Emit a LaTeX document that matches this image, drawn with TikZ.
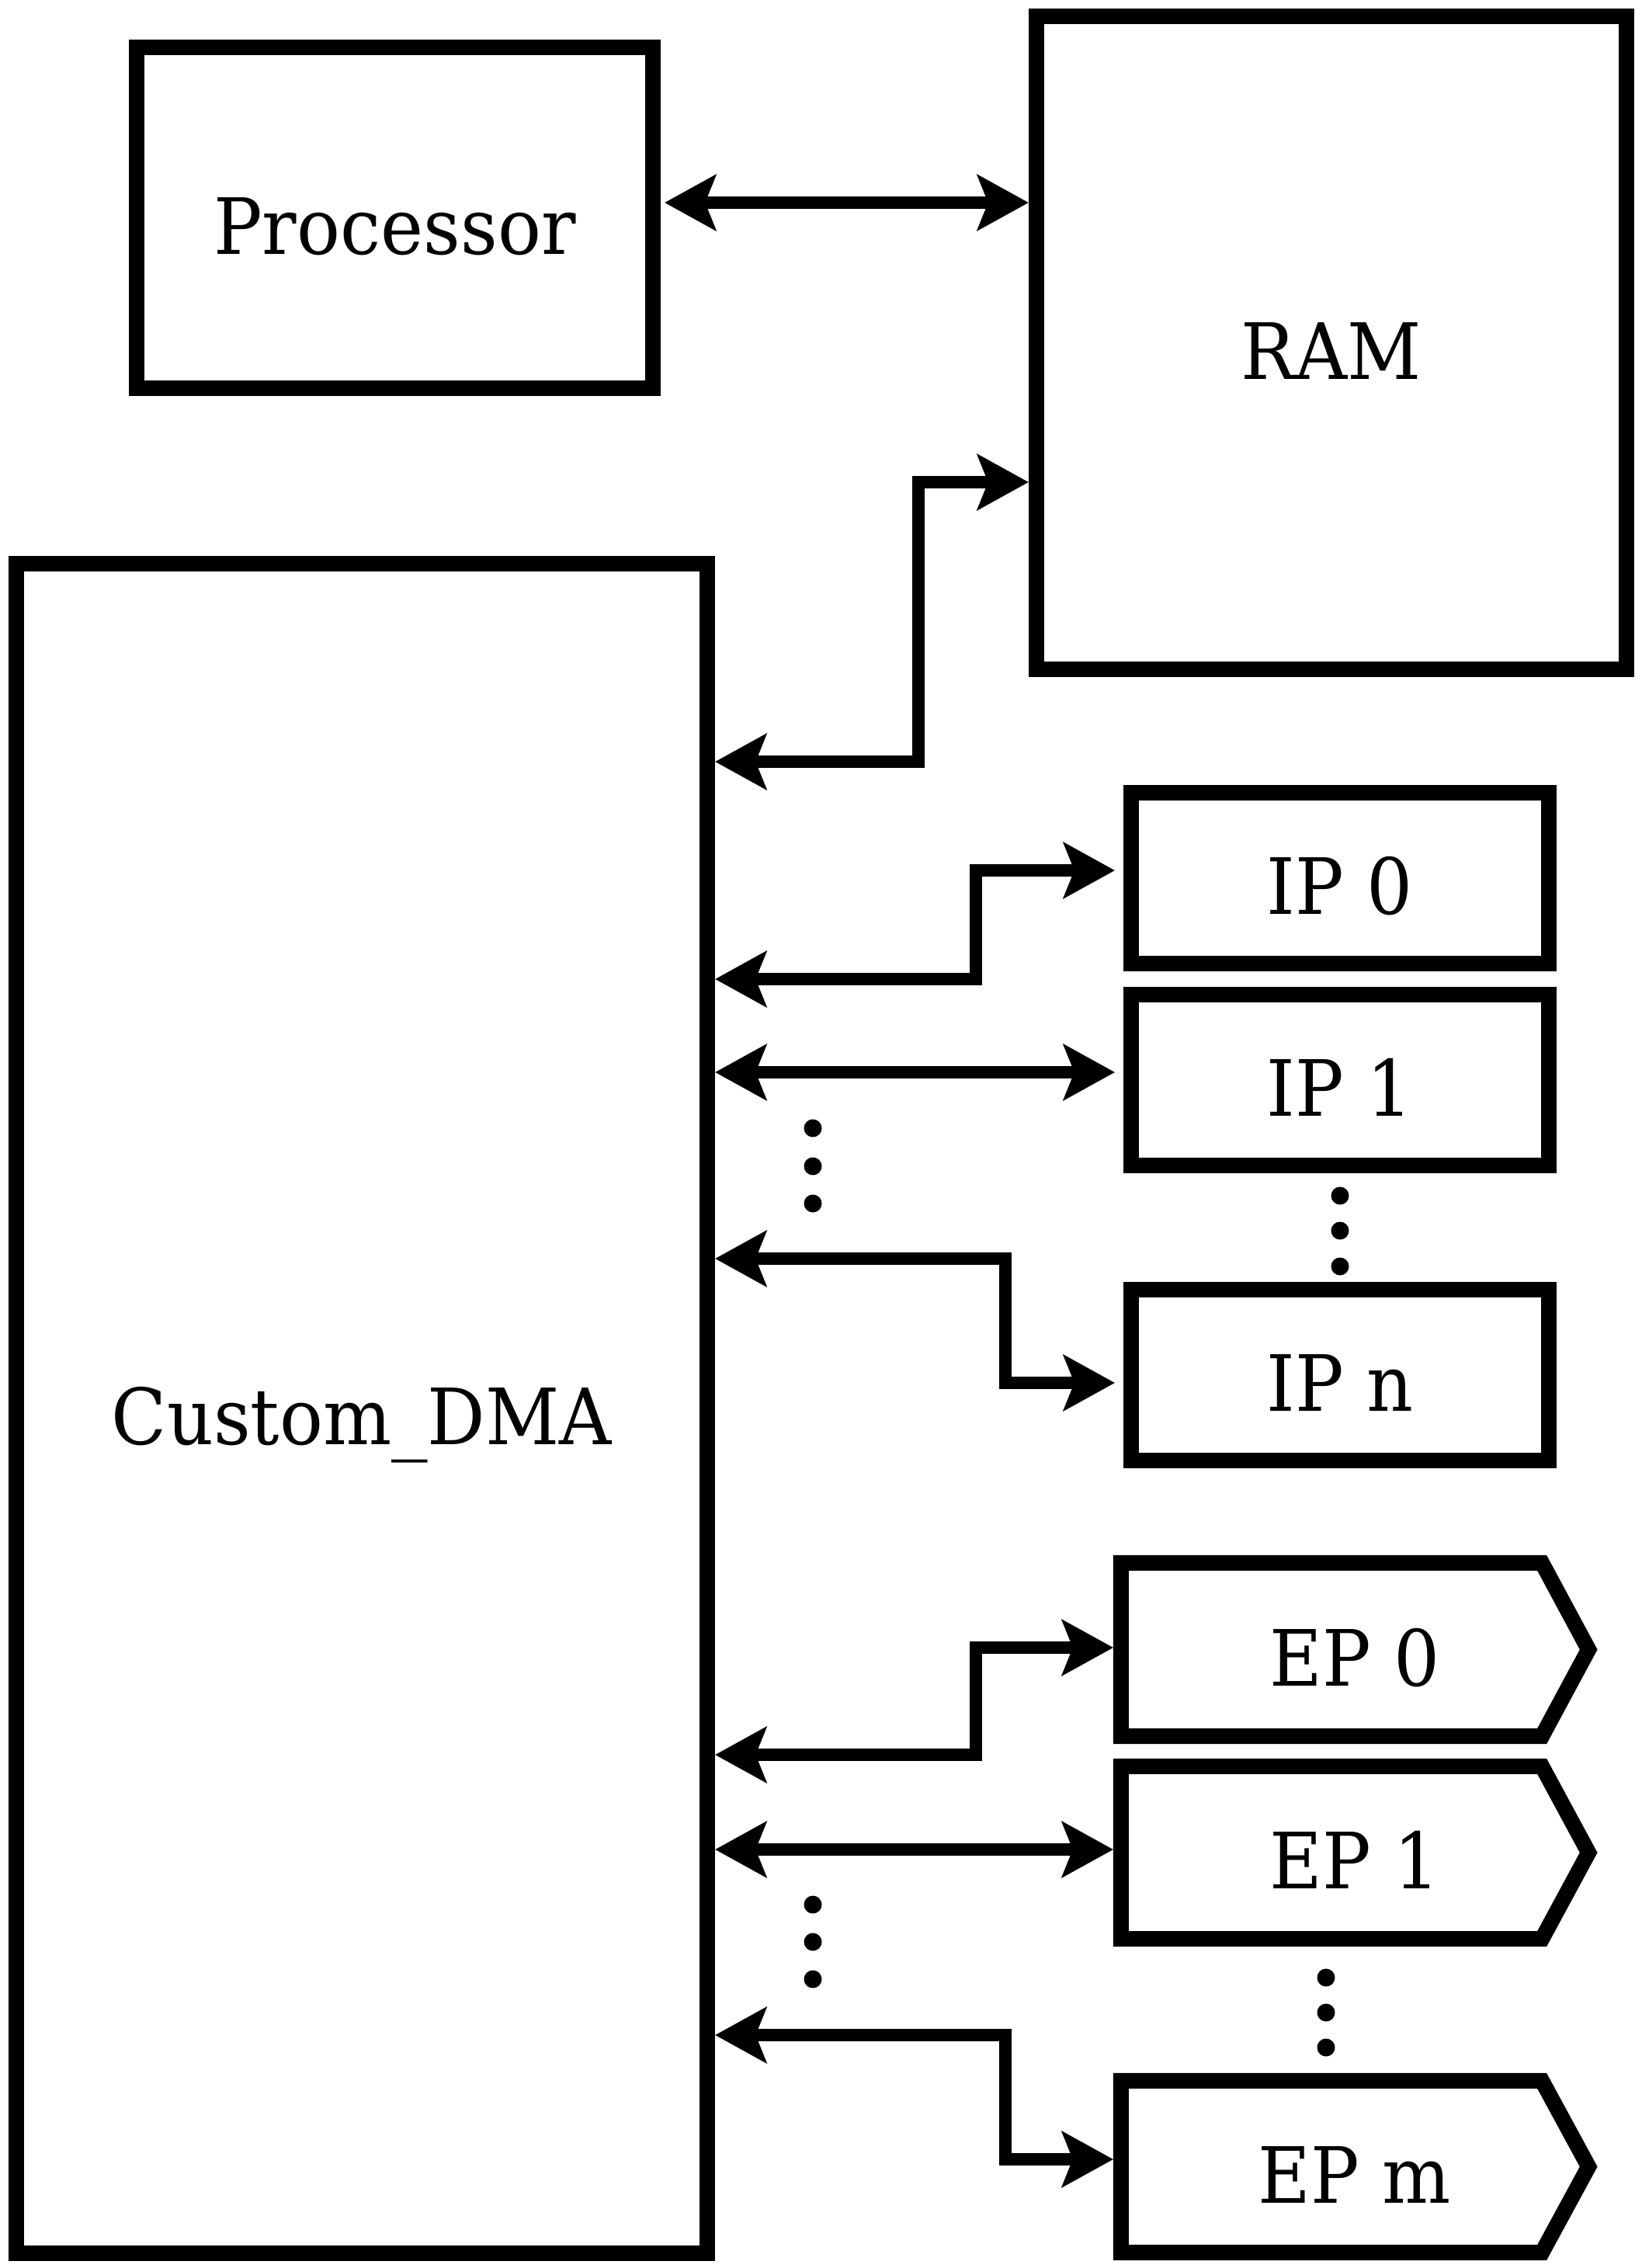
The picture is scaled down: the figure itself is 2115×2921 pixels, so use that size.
\documentclass[tikz,border=0pt]{standalone}
\usepackage{fontspec}
\setmainfont{DejaVu Serif}[FakeStretch=0.93]
\usetikzlibrary{arrows.meta}
\tikzset{
  box/.style={draw, line width=0.2cm, inner sep=0pt, text height=1cm, text depth=0.07cm,
    font=\fontsize{28.45}{34}\selectfont},
  epbox/.style={draw=none, outer sep=0pt, inner sep=0pt, text height=1cm, text depth=0.07cm,
    font=\fontsize{28.45}{34}\selectfont},
  epline/.style={line width=0.2cm, line join=miter},
  tipp/.tip={Stealth[length=0.67cm, width=0.74cm, inset=0.15cm, line width=0pt]},
  conn/.style={line width=0.16cm, tipp-tipp},
  dotfill/.style={fill=black},
}
\begin{document}
\begin{tikzpicture}[x=0.01cm, y=-0.01cm]
\useasboundingbox (0,0) rectangle (2115,2921);

% boxes
\node[box, minimum width=6.65cm, minimum height=4.39cm] (proc) at (508.5,280.5) {Processor};
\node[box, minimum width=7.60cm, minimum height=8.41cm] (ram) at (1715,441.5) {RAM};
\node[box, minimum width=8.90cm, minimum height=21.74cm] (dma) at (466,1814) {Custom\_DMA};

\node[box, minimum width=5.38cm, minimum height=2.20cm] (ip0) at (1726,1131) {IP 0};
\node[box, minimum width=5.38cm, minimum height=2.20cm] (ip1) at (1726,1391) {IP 1};
\node[box, minimum width=5.38cm, minimum height=2.20cm] (ipn) at (1726,1771) {IP n};

\node[epbox, minimum width=6.02cm, minimum height=2.23cm] (ep0) at (1745,2124.5) {EP 0};
\node[epbox, minimum width=6.02cm, minimum height=2.22cm] (ep1) at (1745,2386) {EP 1};
\node[epbox, minimum width=6.02cm, minimum height=2.21cm] (epm) at (1745,2790.5) {EP m};

\foreach \n in {ep0,ep1,epm}{
  \draw[epline] (\n.north west) -- ([xshift=5.42cm]\n.north west) -- (\n.east)
    -- ([xshift=5.42cm]\n.south west) -- (\n.south west) -- cycle;
}

% connectors
\draw[conn, shorten <=0.05cm] (proc.east |- 0,261) -- (ram.west |- 0,261);
\draw[conn] (dma.east |- 0,981) -- (1183,981) -- (1183,621) -- (ram.west |- 0,621);

\draw[conn, shorten >=0.11cm] (dma.east |- 0,1261) -- (1257,1261) -- (1257,1121) -- (ip0.west |- 0,1121);
\draw[conn, shorten >=0.11cm] (dma.east |- 0,1381) -- (ip1.west |- 0,1381);
\draw[conn, shorten >=0.11cm] (dma.east |- 0,1621) -- (1295,1621) -- (1295,1781) -- (ipn.west |- 0,1781);

\draw[conn, shorten >=0.10cm] (dma.east |- 0,2260) -- (1257,2260) -- (1257,2122) -- (ep0.west |- 0,2122);
\draw[conn, shorten >=0.10cm] (dma.east |- 0,2382) -- (ep1.west |- 0,2382);
\draw[conn, shorten >=0.10cm] (dma.east |- 0,2621) -- (1295,2621) -- (1295,2781) -- (epm.west |- 0,2781);

% ellipsis dots
\foreach \x/\y in {1047/1453, 1047/1502, 1047/1550,
                   1726/1540, 1726/1585, 1726/1631,
                   1047/2453, 1047/2501, 1047/2549,
                   1708/2547, 1708/2592, 1708/2637}{
  \fill[dotfill] (\x,\y) circle (0.115cm);
}
\end{tikzpicture}
\end{document}
